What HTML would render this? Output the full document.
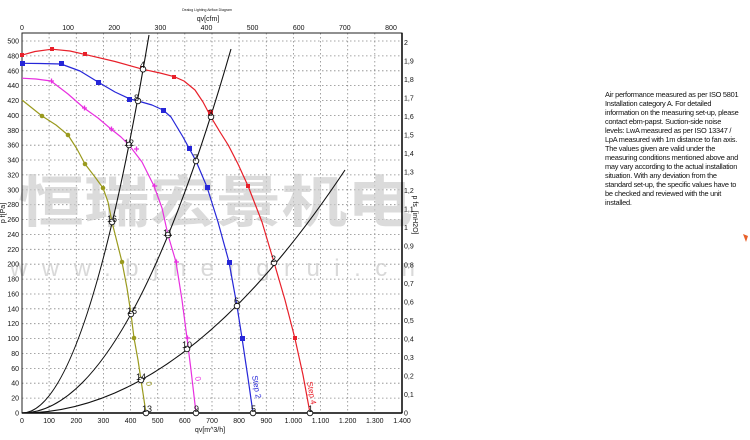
<!DOCTYPE html>
<html><head><meta charset="utf-8"><style>
body{margin:0;background:#fff;width:750px;height:440px;overflow:hidden;position:relative;font-family:"Liberation Sans",sans-serif}
.note{position:absolute;left:605px;top:90px;white-space:nowrap;font-size:7.4px;line-height:9px;letter-spacing:-0.25px;color:#111}
</style></head><body>
<svg width="750" height="440" style="position:absolute;left:0;top:0" font-family="Liberation Sans, sans-serif">
<g stroke="#888" stroke-width="0.8" stroke-dasharray="1.5,2.5">
<line x1="49.1" y1="33" x2="49.1" y2="413"/><line x1="76.3" y1="33" x2="76.3" y2="413"/><line x1="103.4" y1="33" x2="103.4" y2="413"/><line x1="130.6" y1="33" x2="130.6" y2="413"/><line x1="157.7" y1="33" x2="157.7" y2="413"/><line x1="184.8" y1="33" x2="184.8" y2="413"/><line x1="212" y1="33" x2="212" y2="413"/><line x1="239.1" y1="33" x2="239.1" y2="413"/><line x1="266.3" y1="33" x2="266.3" y2="413"/><line x1="293.4" y1="33" x2="293.4" y2="413"/><line x1="320.5" y1="33" x2="320.5" y2="413"/><line x1="347.7" y1="33" x2="347.7" y2="413"/><line x1="374.8" y1="33" x2="374.8" y2="413"/>
<line x1="22" y1="398.1" x2="402" y2="398.1"/><line x1="22" y1="383.2" x2="402" y2="383.2"/><line x1="22" y1="368.4" x2="402" y2="368.4"/><line x1="22" y1="353.5" x2="402" y2="353.5"/><line x1="22" y1="338.6" x2="402" y2="338.6"/><line x1="22" y1="323.7" x2="402" y2="323.7"/><line x1="22" y1="308.8" x2="402" y2="308.8"/><line x1="22" y1="294" x2="402" y2="294"/><line x1="22" y1="279.1" x2="402" y2="279.1"/><line x1="22" y1="264.2" x2="402" y2="264.2"/><line x1="22" y1="249.3" x2="402" y2="249.3"/><line x1="22" y1="234.4" x2="402" y2="234.4"/><line x1="22" y1="219.6" x2="402" y2="219.6"/><line x1="22" y1="204.7" x2="402" y2="204.7"/><line x1="22" y1="189.8" x2="402" y2="189.8"/><line x1="22" y1="174.9" x2="402" y2="174.9"/><line x1="22" y1="160" x2="402" y2="160"/><line x1="22" y1="145.2" x2="402" y2="145.2"/><line x1="22" y1="130.3" x2="402" y2="130.3"/><line x1="22" y1="115.4" x2="402" y2="115.4"/><line x1="22" y1="100.5" x2="402" y2="100.5"/><line x1="22" y1="85.6" x2="402" y2="85.6"/><line x1="22" y1="70.8" x2="402" y2="70.8"/><line x1="22" y1="55.9" x2="402" y2="55.9"/><line x1="22" y1="41" x2="402" y2="41"/>
</g>
<text x="18" y="222" font-size="56" font-weight="bold" fill="#cccccc" fill-opacity="0.7" font-family="Noto Sans CJK SC, sans-serif" textLength="395" lengthAdjust="spacingAndGlyphs">恒瑞宏景机电</text>
<text x="10" y="276" font-size="24" fill="#cccccc" fill-opacity="0.75" textLength="405" lengthAdjust="spacing">www.bjhengrui.cn</text>
<rect x="22" y="33" width="380" height="380" fill="none" stroke="#222" stroke-width="1"/>
<line x1="22" y1="413" x2="402" y2="413" stroke="#000" stroke-width="1.5"/>
<line x1="402" y1="33" x2="402" y2="413" stroke="#000" stroke-width="1.5"/>
<g fill="none" stroke="#111" stroke-width="1.1">
<path d="M22,413 Q85.5,413 149,35"/>
<path d="M22,413 Q126.5,413 231,49"/>
<path d="M22,413 Q183.5,413 345,170"/>
</g>
<g fill="none" stroke-width="1.2" stroke-linejoin="round">
<polyline stroke="#e8202a" points="22,55.1 35,51.5 51.9,49.2 70,51 85,54.4 115,61.5 143,69.3 160,73 174.3,76.7 184,81 195,90 203,102 210.9,116.9 220,132 228.3,145.2 238,164 248.1,186.1 262,222 274.1,262.7 285,300 294.8,337.9 303,375 310,413"/>
<polyline stroke="#2626d8" points="22,63.3 40,63.5 61,64 80,71 98,82 115,92 130,99 138,101 152,105 163,110 171,117 177,127 183,137 189,148 196,161 207,187 218,222 229,262 237,306 242,338 248,378 253,413"/>
<polyline stroke="#e830e0" points="22,78.2 36,79 51,81 68,94 84,108 98,118 111,129 121,137 129,145 142,162 154,186 162,208 168,235 176,262 182,300 187,338 191,370 196,413"/>
<polyline stroke="#9a9a1e" points="22,100 32,108 42,116 56,125 68,135 77,149 85,164 95,177 103,188 108,202 112,222 117,242 122,262 127,288 131,314 134,338 138,360 141,380 146,413"/>
</g>
<g fill="#e8202a"><rect x="50" y="47" width="4" height="4"/><rect x="83" y="52" width="4" height="4"/><rect x="140" y="66" width="4" height="4"/><rect x="172" y="75" width="4" height="4"/><rect x="208" y="110" width="5" height="5"/><rect x="246" y="184" width="4" height="4"/><rect x="293" y="336" width="4" height="4"/><rect x="20" y="53" width="4" height="4"/></g>
<g fill="#2626d8"><rect x="20" y="61" width="5" height="5"/><rect x="59" y="61" width="5" height="5"/><rect x="96" y="80" width="5" height="5"/><rect x="127" y="97" width="5" height="5"/><rect x="161" y="108" width="5" height="5"/><rect x="187" y="146" width="5" height="5"/><rect x="205" y="185" width="5" height="5"/><rect x="227" y="260" width="5" height="5"/><rect x="240" y="336" width="5" height="5"/></g>
<g stroke="#e830e0" stroke-width="1.3"><path d="M49,81h5M51.5,78.5v5M82,108h5M84.5,105.5v5M109,129h5M111.5,126.5v5M134,149h5M136.5,146.5v5M152,186h5M154.5,183.5v5M174,262h5M176.5,259.5v5M185,338h5M187.5,335.5v5"/></g>
<g fill="#9a9a1e"><circle cx="42" cy="116" r="2.3"/><circle cx="68" cy="135" r="2.3"/><circle cx="85" cy="164" r="2.3"/><circle cx="103" cy="188" r="2.3"/><circle cx="122" cy="262" r="2.3"/><circle cx="134" cy="338" r="2.3"/></g>
<g fill="#fff" stroke="#111" stroke-width="0.9">
<circle cx="143" cy="69.3" r="2.8"/><circle cx="138" cy="101" r="2.8"/><circle cx="129" cy="145" r="2.8"/><circle cx="112" cy="222" r="2.8"/>
<circle cx="211" cy="116.9" r="2.8"/><circle cx="196" cy="161" r="2.8"/><circle cx="168" cy="235" r="2.8"/><circle cx="131" cy="314" r="2.8"/>
<circle cx="274" cy="262.7" r="2.8"/><circle cx="237" cy="306" r="2.8"/><circle cx="187" cy="349" r="2.8"/><circle cx="141" cy="380" r="2.8"/>
<circle cx="310" cy="413" r="2.8"/><circle cx="253" cy="413" r="2.8"/><circle cx="196" cy="413" r="2.8"/><circle cx="146" cy="413" r="2.8"/>
</g>
<g font-size="9" fill="#111">
<text x="140" y="68">4</text><text x="134" y="101">8</text><text x="124" y="146">12</text><text x="107" y="222">16</text>
<text x="208" y="116">3</text><text x="193" y="161">7</text><text x="163" y="236">11</text><text x="127" y="314">15</text>
<text x="271" y="262">2</text><text x="234" y="304">6</text><text x="182" y="348">10</text><text x="136" y="380">14</text>
<text x="308" y="412">1</text><text x="251" y="412">5</text><text x="194" y="412">9</text><text x="142" y="412">13</text>
</g>
<g font-size="8">
<text transform="translate(146,382) rotate(80)" fill="#9a9a1e">0</text>
<text transform="translate(195,377) rotate(80)" fill="#e830e0">0</text>
<text transform="translate(252,376) rotate(80)" fill="#2626d8">Step 2</text>
<text transform="translate(307,382) rotate(80)" fill="#e8202a">Step 4</text>
</g>
<g font-size="7" fill="#111" text-anchor="end">
<text x="19" y="415.5">0</text><text x="19" y="400.6">20</text><text x="19" y="385.7">40</text><text x="19" y="370.9">60</text><text x="19" y="356">80</text><text x="19" y="341.1">100</text><text x="19" y="326.2">120</text><text x="19" y="311.3">140</text><text x="19" y="296.5">160</text><text x="19" y="281.6">180</text><text x="19" y="266.7">200</text><text x="19" y="251.8">220</text><text x="19" y="236.9">240</text><text x="19" y="222.1">260</text><text x="19" y="207.2">280</text><text x="19" y="192.3">300</text><text x="19" y="177.4">320</text><text x="19" y="162.5">340</text><text x="19" y="147.7">360</text><text x="19" y="132.8">380</text><text x="19" y="117.9">400</text><text x="19" y="103">420</text><text x="19" y="88.1">440</text><text x="19" y="73.3">460</text><text x="19" y="58.4">480</text><text x="19" y="43.5">500</text>
</g>
<g font-size="7" fill="#111">
<text x="404" y="415.5">0</text><text x="404" y="397">0,1</text><text x="404" y="378.4">0,2</text><text x="404" y="359.9">0,3</text><text x="404" y="341.4">0,4</text><text x="404" y="322.9">0,5</text><text x="404" y="304.3">0,6</text><text x="404" y="285.8">0,7</text><text x="404" y="267.3">0,8</text><text x="404" y="248.7">0,9</text><text x="404" y="230.2">1</text><text x="404" y="211.7">1,1</text><text x="404" y="193.1">1,2</text><text x="404" y="174.6">1,3</text><text x="404" y="156.1">1,4</text><text x="404" y="137.6">1,5</text><text x="404" y="119">1,6</text><text x="404" y="100.5">1,7</text><text x="404" y="82">1,8</text><text x="404" y="63.4">1,9</text><text x="404" y="45">2</text>
</g>
<g font-size="7" fill="#111" text-anchor="middle">
<text x="22" y="423">0</text><text x="49.1" y="423">100</text><text x="76.3" y="423">200</text><text x="103.4" y="423">300</text><text x="130.6" y="423">400</text><text x="157.7" y="423">500</text><text x="184.8" y="423">600</text><text x="212" y="423">700</text><text x="239.1" y="423">800</text><text x="266.3" y="423">900</text><text x="293.4" y="423">1.000</text><text x="320.5" y="423">1.100</text><text x="347.7" y="423">1.200</text><text x="374.8" y="423">1.300</text><text x="402" y="423">1.400</text>
<text x="22" y="30">0</text><text x="68.1" y="30">100</text><text x="114.2" y="30">200</text><text x="160.4" y="30">300</text><text x="206.5" y="30">400</text><text x="252.6" y="30">500</text><text x="298.7" y="30">600</text><text x="344.8" y="30">700</text><text x="391" y="30">800</text>
<text x="210" y="432">qv[m^3/h]</text>
<text x="208" y="21">qv[cfm]</text>
<text x="207" y="11" font-size="3.5">Dealog Lighting Airflow Diagram</text>
</g>
<text transform="translate(5,213) rotate(-90)" font-size="7" fill="#111" text-anchor="middle">p f[Pa]</text>
<text transform="translate(413,215) rotate(90)" font-size="7" fill="#111" text-anchor="middle">p fs_[inH2O]</text>
<path d="M743,234 l5,2 l-2,6 z" fill="#e8602a"/>
</svg>
<div class="note">Air performance measured as per ISO 5801<br>Installation category A. For detailed<br>information on the measuring set-up, please<br>contact ebm-papst. Suction-side noise<br>levels: LwA measured as per ISO 13347 /<br>LpA measured with 1m distance to fan axis.<br>The values given are valid under the<br>measuring conditions mentioned above and<br>may vary according to the actual installation<br>situation. With any deviation from the<br>standard set-up, the specific values have to<br>be checked and reviewed with the unit<br>installed.</div>
</body></html>
